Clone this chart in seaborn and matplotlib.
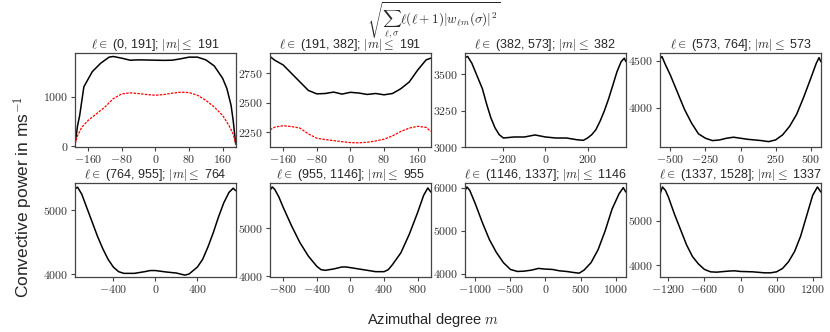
import matplotlib
matplotlib.use("Agg")
import matplotlib.pyplot as plt
import matplotlib.ticker as mticker
import seaborn as sns

# panel 1: l in (0, 191]
m1 = [-191, -185, -180, -170, -150, -130, -110, -100, -80, -60, -40, -20, 0, 20, 40, 60, 80, 100, 120, 140, 160, 170, 180, 185, 191]
p1_black = [40, 420, 622, 1204, 1510, 1680, 1803, 1816, 1782, 1741, 1748, 1745, 1741, 1738, 1741, 1769, 1803, 1803, 1748, 1626, 1374, 1170, 830, 524, 48]
m1r = [-191, -185, -175, -160, -140, -120, -100, -80, -60, -40, -20, 0, 20, 40, 60, 80, 100, 120, 140, 160, 175, 185, 191]
p1_red = [48, 218, 388, 524, 660, 796, 966, 1061, 1082, 1068, 1048, 1034, 1048, 1075, 1095, 1088, 1034, 932, 796, 626, 422, 252, 48]

# panel 2: l in (191, 382]
m2 = [-191, -180, -160, -140, -120, -100, -80, -60, -40, -20, 0, 20, 40, 60, 80, 100, 120, 140, 160, 180, 191]
p2_black = [2893, 2862, 2822, 2750, 2678, 2606, 2577, 2580, 2592, 2575, 2590, 2584, 2572, 2580, 2569, 2580, 2621, 2678, 2779, 2865, 2879]
p2_red = [2273, 2295, 2307, 2300, 2287, 2238, 2201, 2190, 2181, 2172, 2164, 2162, 2167, 2178, 2193, 2221, 2259, 2287, 2302, 2293, 2259]

# panel 3: l in (382, 573]
m3 = [-382, -370, -350, -320, -300, -280, -260, -240, -220, -200, -150, -100, -50, 0, 50, 100, 150, 180, 200, 220, 240, 260, 280, 300, 320, 340, 360, 375, 382]
p3_black = [3617, 3624, 3577, 3472, 3402, 3297, 3203, 3133, 3086, 3063, 3070, 3070, 3084, 3070, 3063, 3063, 3051, 3047, 3063, 3086, 3121, 3180, 3250, 3332, 3425, 3519, 3589, 3612, 3589]

# panel 4: l in (573, 764]
m4 = [-573, -560, -540, -500, -450, -400, -350, -300, -250, -200, -150, -100, -50, 0, 50, 100, 150, 200, 250, 300, 350, 400, 450, 500, 540, 560, 573]
p4_black = [4525, 4543, 4471, 4344, 4163, 3982, 3837, 3721, 3674, 3649, 3656, 3674, 3685, 3674, 3663, 3656, 3649, 3638, 3656, 3710, 3801, 3928, 4109, 4308, 4471, 4532, 4489]

# panel 5: l in (764, 955]
m5 = [-764, -740, -700, -650, -600, -550, -500, -450, -400, -350, -300, -200, -100, -50, 0, 100, 200, 280, 320, 400, 450, 500, 550, 600, 650, 700, 740, 764]
p5_black = [5330, 5357, 5247, 5027, 4808, 4588, 4396, 4231, 4110, 4038, 4011, 4011, 4038, 4055, 4055, 4033, 4016, 3984, 4000, 4110, 4231, 4423, 4643, 4890, 5110, 5275, 5341, 5302]

# panel 6: l in (955, 1146]
m6 = [-955, -930, -900, -850, -800, -700, -600, -500, -400, -350, -300, -200, -100, -50, 0, 100, 200, 300, 400, 450, 500, 600, 700, 800, 870, 920, 955]
p6_black = [5796, 5866, 5817, 5655, 5444, 5056, 4704, 4423, 4211, 4141, 4127, 4155, 4197, 4197, 4183, 4155, 4127, 4099, 4099, 4141, 4246, 4493, 4880, 5338, 5690, 5845, 5761]

# panel 7: l in (1146, 1337]
m7 = [-1146, -1120, -1080, -1000, -900, -800, -700, -600, -500, -400, -300, -200, -100, 0, 100, 200, 300, 400, 480, 550, 650, 750, 850, 950, 1050, 1110, 1146]
p7_black = [5944, 6024, 5944, 5627, 5190, 4793, 4492, 4254, 4095, 4048, 4056, 4079, 4119, 4103, 4095, 4063, 4048, 4024, 4008, 4079, 4254, 4556, 4992, 5508, 5865, 6008, 5905]

# panel 8: l in (1337, 1528]
m8 = [-1337, -1300, -1250, -1200, -1100, -1000, -900, -800, -700, -600, -500, -400, -200, -100, 0, 200, 400, 500, 600, 700, 800, 900, 1000, 1100, 1200, 1280, 1337]
p8_black = [5615, 5769, 5692, 5538, 5154, 4808, 4462, 4192, 4023, 3900, 3846, 3838, 3862, 3869, 3854, 3846, 3823, 3823, 3846, 3923, 4077, 4308, 4654, 5115, 5577, 5769, 5654]

titles = [r"$\ell \in$ (0, 191]; $|m| \leq$ 191", r"$\ell \in$ (191, 382]; $|m| \leq$ 191",
          r"$\ell \in$ (382, 573]; $|m| \leq$ 382", r"$\ell \in$ (573, 764]; $|m| \leq$ 573",
          r"$\ell \in$ (764, 955]; $|m| \leq$ 764", r"$\ell \in$ (955, 1146]; $|m| \leq$ 955",
          r"$\ell \in$ (1146, 1337]; $|m| \leq$ 1146", r"$\ell \in$ (1337, 1528]; $|m| \leq$ 1337"]
m_max = [191, 191, 382, 573, 764, 955, 1146, 1337]
xticks = [[-160, -80, 0, 80, 160], [-160, -80, 0, 80, 160], [-200, 0, 200], [-500, -250, 0, 250, 500],
          [-400, 0, 400], [-800, -400, 0, 400, 800], [-1000, -500, 0, 500, 1000], [-1200, -600, 0, 600, 1200]]
yticks = [[0, 1000], [2250, 2500, 2750], [3000, 3250, 3500], [4000, 4500],
          [4000, 5000], [4000, 5000], [4000, 5000, 6000], [4000, 5000]]
ylims = [(-20, 1884), (2123, 2922), (2998, 3647), (3576, 4580),
         (3956, 5429), (3990, 5958), (3921, 6127), (3731, 5869)]

black = [(m1, p1_black), (m2, p2_black), (m3, p3_black), (m4, p4_black),
         (m5, p5_black), (m6, p6_black), (m7, p7_black), (m8, p8_black)]
red = {0: (m1r, p1_red), 1: (m2, p2_red)}

sns.set_style("ticks", {"axes.edgecolor": "#444444", "xtick.color": "#444444", "ytick.color": "#444444"})
plt.rcParams["font.family"] = ["Liberation Sans", "DejaVu Sans"]
plt.rcParams["mathtext.fontset"] = "cm"

fig, axes = plt.subplots(2, 4, figsize=(8.3, 3.32), dpi=100)
fig.subplots_adjust(left=0.0904, right=0.989, top=0.840, bottom=0.166, wspace=0.214, hspace=0.372)

fmt = mticker.FuncFormatter(lambda v, pos: f"${v:g}$")

for i, ax in enumerate(axes.flat):
    mx, vals = black[i]
    sns.lineplot(x=mx, y=vals, ax=ax, color="black", linewidth=1.1)
    if i in red:
        rx, rv = red[i]
        sns.lineplot(x=rx, y=rv, ax=ax, color="red", linewidth=0.9, linestyle=(0, (2, 1)))
    ax.set_xlim(-m_max[i], m_max[i])
    ax.set_ylim(*ylims[i])
    ax.set_xticks(xticks[i])
    ax.set_yticks(yticks[i])
    ax.xaxis.set_major_formatter(fmt)
    ax.yaxis.set_major_formatter(fmt)
    ax.tick_params(labelsize=8.5, length=3, width=0.8, pad=2, labelcolor="#333333")
    ax.set_title(titles[i], fontsize=9, pad=3)
    for s in ax.spines.values():
        s.set_linewidth(0.9)

fig.text(0.522, 1.0, r"$\sqrt{\sum_{\ell,\sigma}\ell(\ell+1)|w_{\ell m}(\sigma)|^2}$",
         ha="center", va="top", fontsize=9.5)
fig.text(0.522, 1 - 320 / 332, r"Azimuthal degree $m$", ha="center", va="center", fontsize=10.5)
fig.text(0.028, 1 - 197 / 332, r"Convective power in ms$^{-1}$", ha="center", va="center",
         rotation=90, fontsize=12.5)

fig.savefig("out.png", dpi=100)
